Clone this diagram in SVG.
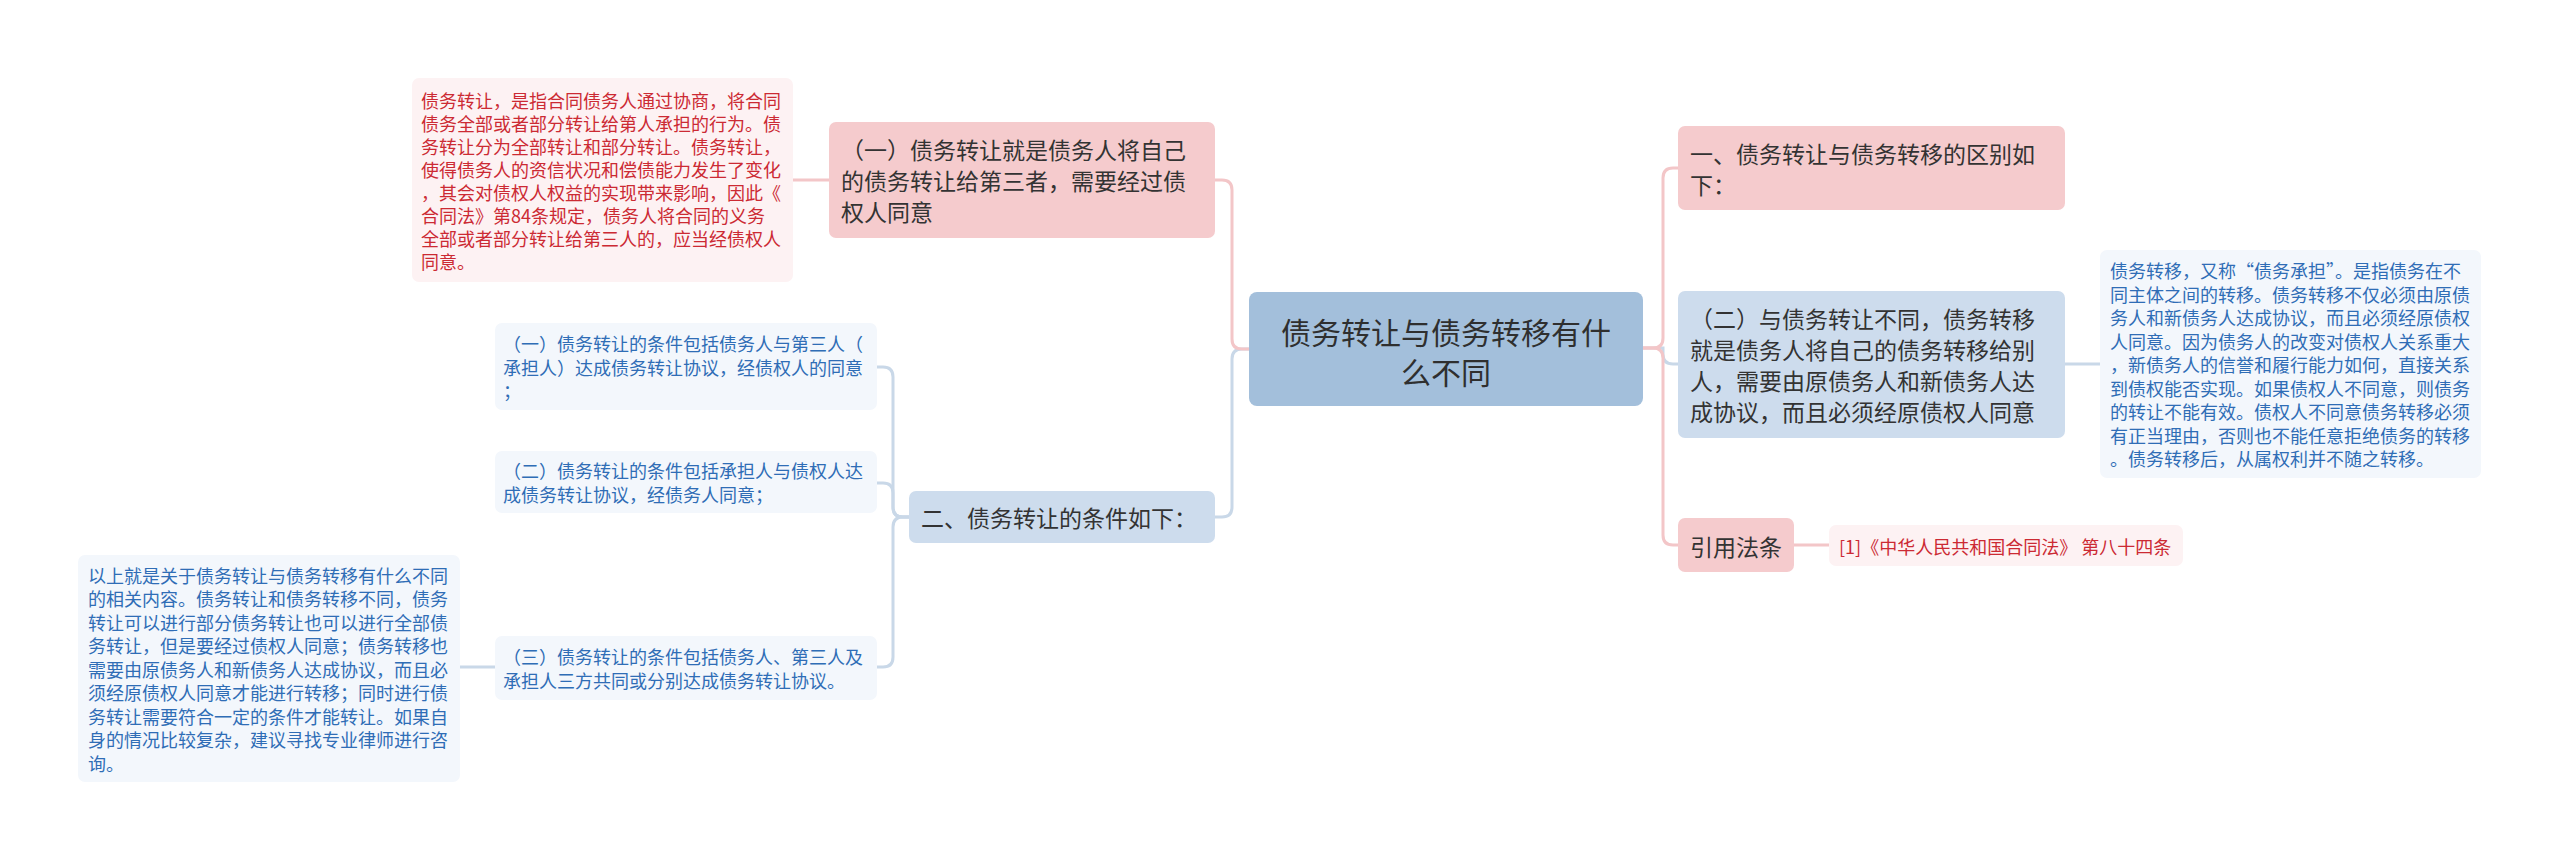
<svg xmlns="http://www.w3.org/2000/svg" width="2560" height="861" viewBox="0 0 2560 861">
<style>
text{font-family:"Noto Sans CJK SC","Liberation Sans",sans-serif;dominant-baseline:central}
.c{fill:none;stroke-width:3;stroke-linecap:round}
.cp{stroke:#f3c6c8}
.cb{stroke:#c9d8e8}
.root{fill:#a3bfdb}
.pk{fill:#f5cbcd}
.bl{fill:#cddced}
.lp{fill:#fdf2f3}
.lb{fill:#f3f7fc}
.t30{font-size:30px;fill:#2f2f2f}
.t23{font-size:23px;fill:#333333}
.tr{font-size:18px;fill:#cc2a33}
.tb{font-size:18px;fill:#2f6db6}
</style>
<rect width="2560" height="861" fill="#ffffff"/>
<g id="connectors">
<path class="c cb" d="M1249,349 H1242 Q1232,349 1232,359 V507 Q1232,517 1222,517 H1215"/>
<path class="c cp" d="M1249,349 H1242 Q1232,349 1232,339 V190 Q1232,180 1222,180 H1215"/>
<path class="c cp" d="M829,180 H793"/>
<path class="c cb" d="M909,517 H903 Q893,517 893,507 V377 Q893,367 883,367 H877"/>
<path class="c cb" d="M909,517 H903 Q893,517 893,507 V493 Q893,483 883,483 H877"/>
<path class="c cb" d="M909,517 H903 Q893,517 893,527 V657 Q893,667 883,667 H877"/>
<path class="c cb" d="M495,667 H460"/>
<path class="c cb" d="M1643,348 H1663 V354 Q1663,364 1673,364 H1678"/>
<path class="c cp" d="M1643,348 H1653 Q1663,348 1663,338 V178 Q1663,168 1673,168 H1678"/>
<path class="c cp" d="M1643,348 H1653 Q1663,348 1663,358 V535 Q1663,545 1673,545 H1678"/>
<path class="c cb" d="M2065,364 H2100"/>
<path class="c cp" d="M1794,545 H1829"/>
</g>
<g id="root">
<rect class="root" x="1249" y="292" width="394" height="114" rx="8"/>
<text class="t30" x="1446" y="331" text-anchor="middle">债务转让与债务转移有什</text>
<text class="t30" x="1446" y="371" text-anchor="middle">么不同</text>
</g>
<g id="n1">
<rect class="pk" x="1678" y="126" width="387" height="84" rx="7"/>
<text class="t23" x="1690" y="153">一、债务转让与债务转移的区别如</text>
<text class="t23" x="1690" y="184">下：</text>
</g>
<g id="n2">
<rect class="bl" x="1678" y="291" width="387" height="147" rx="7"/>
<text class="t23" x="1690" y="318">（二）与债务转让不同，债务转移</text>
<text class="t23" x="1690" y="349">就是债务人将自己的债务转移给别</text>
<text class="t23" x="1690" y="380">人，需要由原债务人和新债务人达</text>
<text class="t23" x="1690" y="411">成协议，而且必须经原债权人同意</text>
</g>
<g id="n2leaf">
<rect class="lb" x="2100" y="250" width="381" height="228" rx="7"/>
<text class="tb" x="2110" y="270">债务转移，又称“债务承担”。是指债务在不</text>
<text class="tb" x="2110" y="293.5">同主体之间的转移。债务转移不仅必须由原债</text>
<text class="tb" x="2110" y="317">务人和新债务人达成协议，而且必须经原债权</text>
<text class="tb" x="2110" y="340.5">人同意。因为债务人的改变对债权人关系重大</text>
<text class="tb" x="2110" y="364">，新债务人的信誉和履行能力如何，直接关系</text>
<text class="tb" x="2110" y="387.5">到债权能否实现。如果债权人不同意，则债务</text>
<text class="tb" x="2110" y="411">的转让不能有效。债权人不同意债务转移必须</text>
<text class="tb" x="2110" y="434.5">有正当理由，否则也不能任意拒绝债务的转移</text>
<text class="tb" x="2110" y="458">。债务转移后，从属权利并不随之转移。</text>
</g>
<g id="n3">
<rect class="pk" x="1678" y="518" width="116" height="54" rx="7"/>
<text class="t23" x="1736" y="546" text-anchor="middle">引用法条</text>
</g>
<g id="n3leaf">
<rect class="lp" x="1829" y="525" width="354" height="41" rx="7"/>
<text class="tr" x="1839" y="546">[1]《中华人民共和国合同法》 第八十四条</text>
</g>
<g id="nA">
<rect class="pk" x="829" y="122" width="386" height="116" rx="7"/>
<text class="t23" x="841" y="149">（一）债务转让就是债务人将自己</text>
<text class="t23" x="841" y="180">的债务转让给第三者，需要经过债</text>
<text class="t23" x="841" y="211">权人同意</text>
</g>
<g id="nAleaf">
<rect class="lp" x="412" y="78" width="381" height="204" rx="7"/>
<text class="tr" x="421" y="99.5">债务转让，是指合同债务人通过协商，将合同</text>
<text class="tr" x="421" y="122.5">债务全部或者部分转让给第人承担的行为。债</text>
<text class="tr" x="421" y="145.5">务转让分为全部转让和部分转让。债务转让，</text>
<text class="tr" x="421" y="168.5">使得债务人的资信状况和偿债能力发生了变化</text>
<text class="tr" x="421" y="191.5">，其会对债权人权益的实现带来影响，因此《</text>
<text class="tr" x="421" y="214.5">合同法》第84条规定，债务人将合同的义务</text>
<text class="tr" x="421" y="237.5">全部或者部分转让给第三人的，应当经债权人</text>
<text class="tr" x="421" y="260.5">同意。</text>
</g>
<g id="nB">
<rect class="bl" x="909" y="491" width="306" height="52" rx="7"/>
<text class="t23" x="921" y="517">二、债务转让的条件如下：</text>
</g>
<g id="nB1">
<rect class="lb" x="495" y="323" width="382" height="87" rx="7"/>
<text class="tb" x="503" y="343">（一）债务转让的条件包括债务人与第三人（</text>
<text class="tb" x="503" y="366.5">承担人）达成债务转让协议，经债权人的同意</text>
<text class="tb" x="503" y="390">；</text>
</g>
<g id="nB2">
<rect class="lb" x="495" y="451" width="382" height="62" rx="7"/>
<text class="tb" x="503" y="470">（二）债务转让的条件包括承担人与债权人达</text>
<text class="tb" x="503" y="494">成债务转让协议，经债务人同意；</text>
</g>
<g id="nB3">
<rect class="lb" x="495" y="636" width="382" height="64" rx="7"/>
<text class="tb" x="503" y="656">（三）债务转让的条件包括债务人、第三人及</text>
<text class="tb" x="503" y="680">承担人三方共同或分别达成债务转让协议。</text>
</g>
<g id="nB3leaf">
<rect class="lb" x="78" y="555" width="382" height="227" rx="7"/>
<text class="tb" x="88" y="574.5">以上就是关于债务转让与债务转移有什么不同</text>
<text class="tb" x="88" y="598">的相关内容。债务转让和债务转移不同，债务</text>
<text class="tb" x="88" y="621.5">转让可以进行部分债务转让也可以进行全部债</text>
<text class="tb" x="88" y="645">务转让，但是要经过债权人同意；债务转移也</text>
<text class="tb" x="88" y="668.5">需要由原债务人和新债务人达成协议，而且必</text>
<text class="tb" x="88" y="692">须经原债权人同意才能进行转移；同时进行债</text>
<text class="tb" x="88" y="715.5">务转让需要符合一定的条件才能转让。如果自</text>
<text class="tb" x="88" y="739">身的情况比较复杂，建议寻找专业律师进行咨</text>
<text class="tb" x="88" y="762.5">询。</text>
</g>
</svg>
